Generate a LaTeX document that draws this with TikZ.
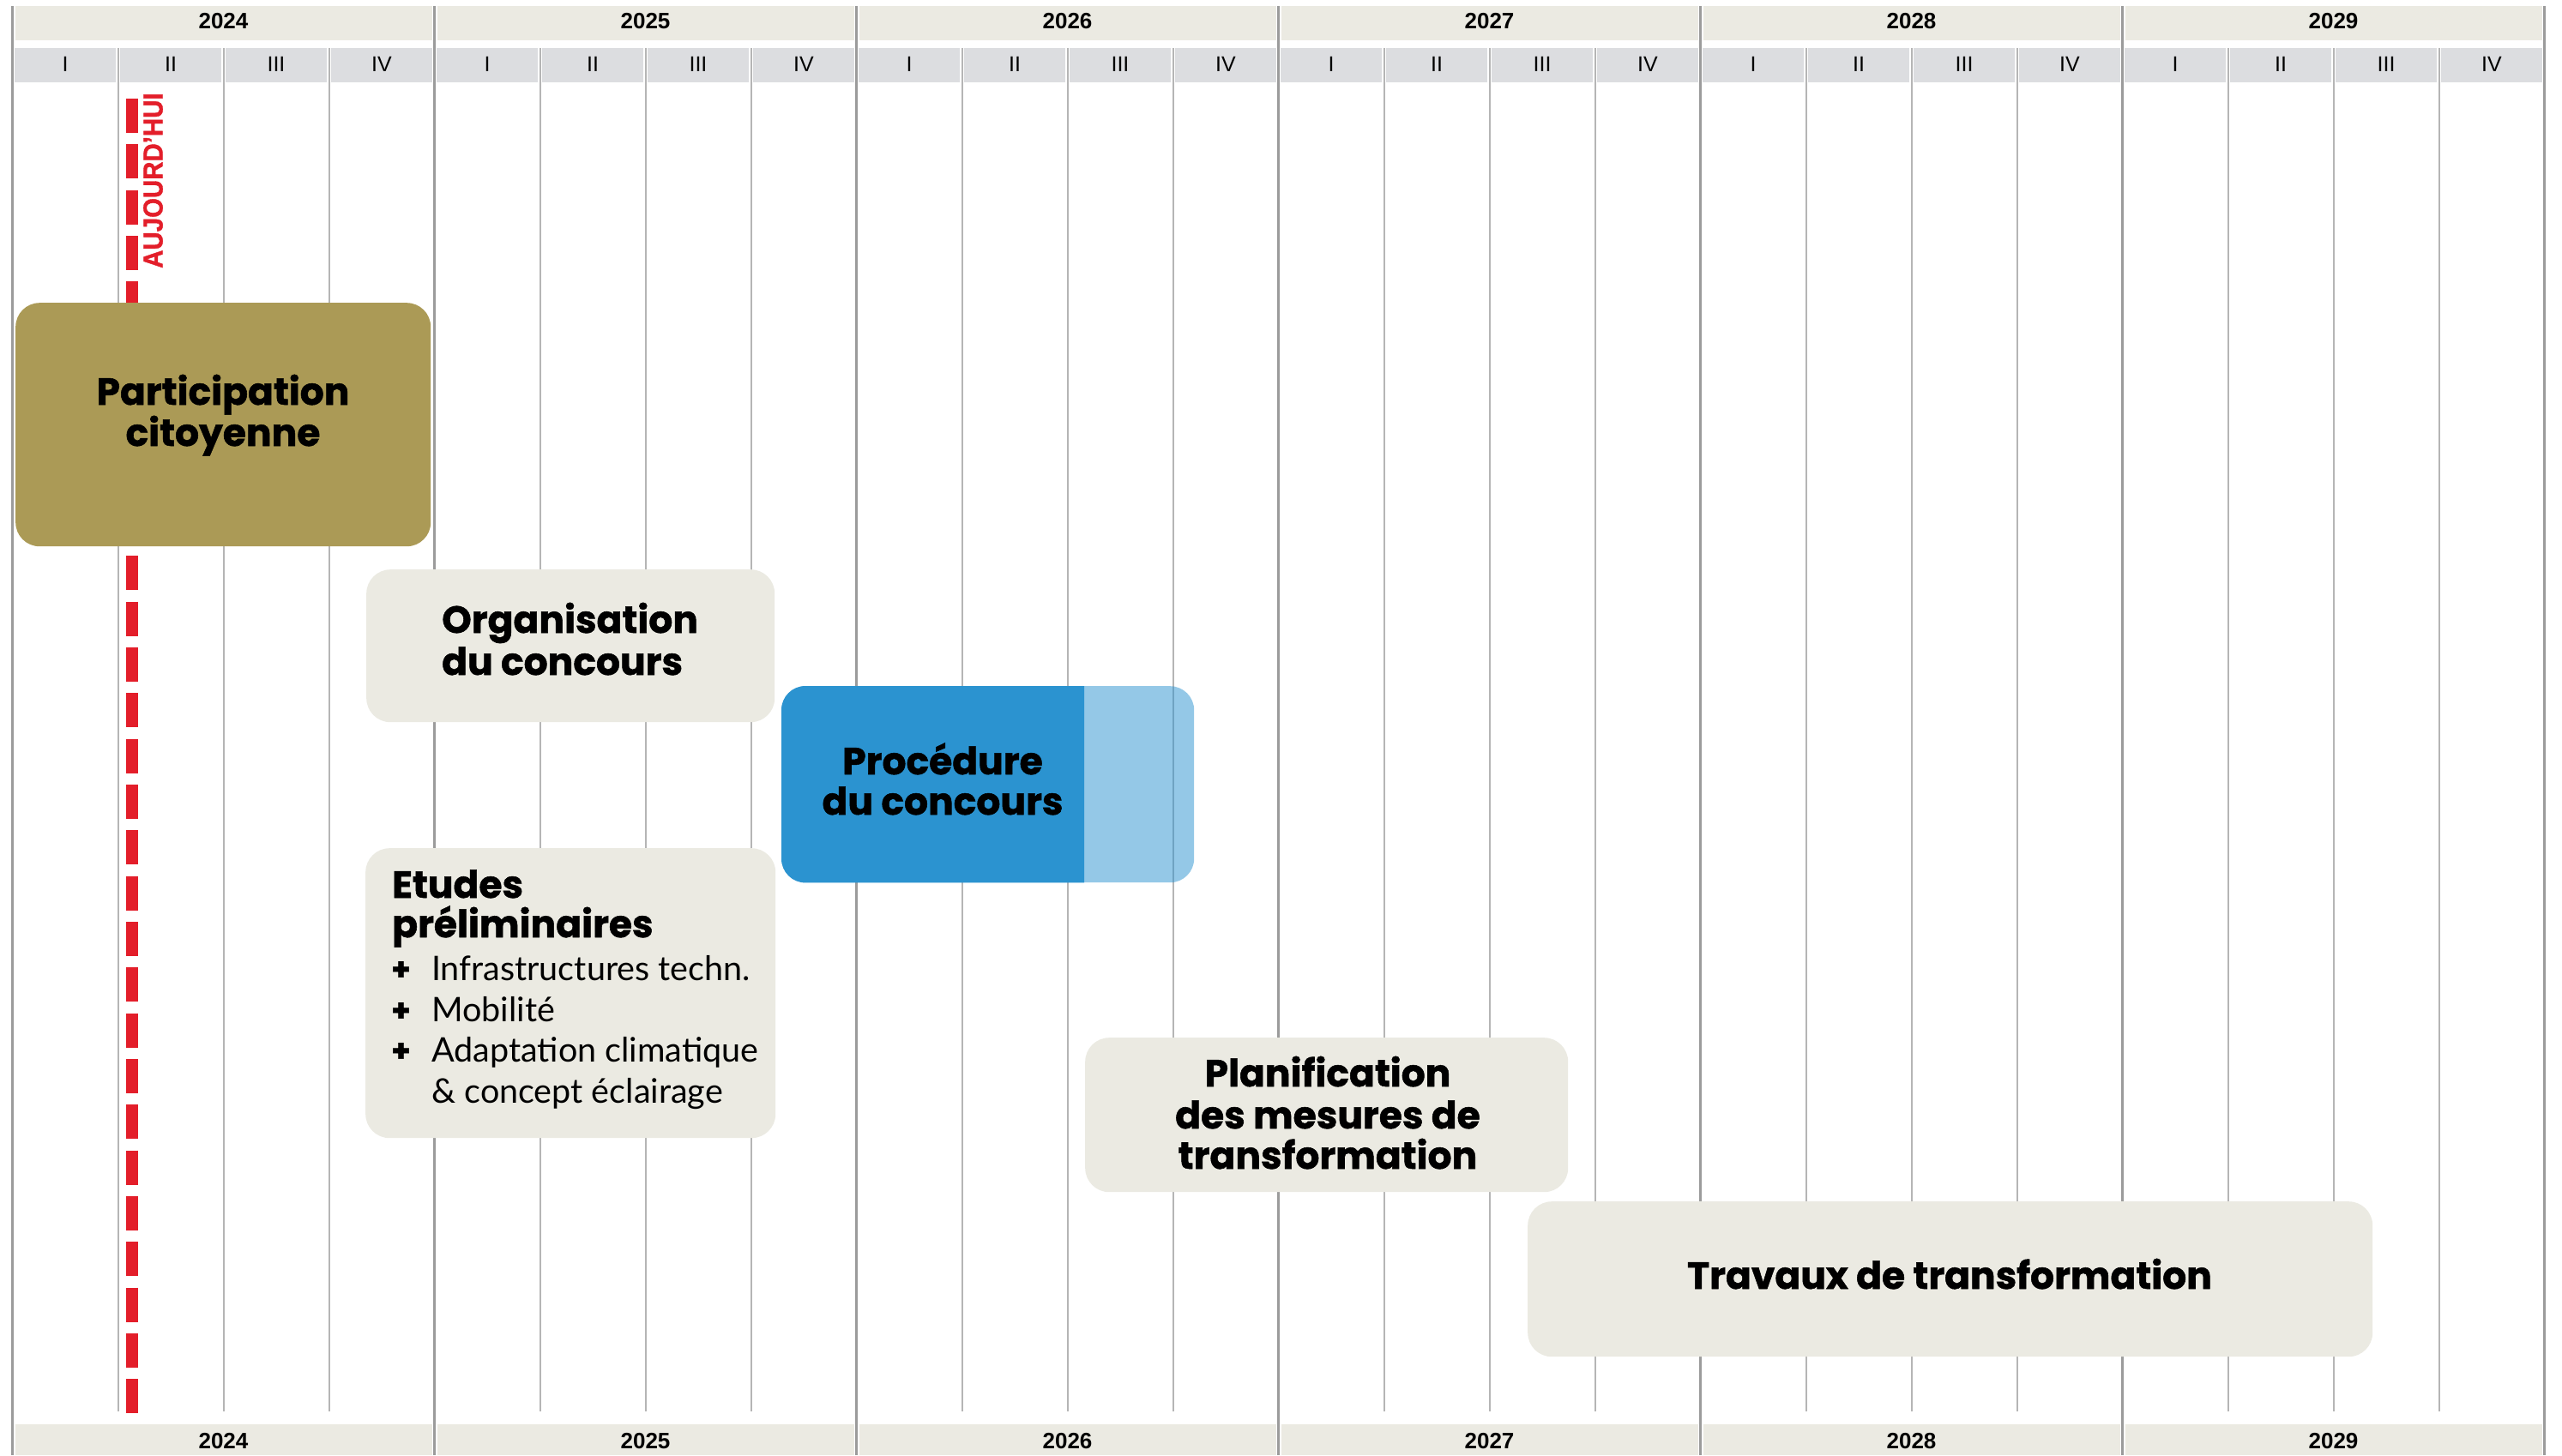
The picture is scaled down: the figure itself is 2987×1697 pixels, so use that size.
\documentclass[tikz,border=0pt]{standalone}
\usepackage{fontspec}
\newfontfamily\titlefont{Poppins}[BoldFeatures={FakeBold=1.2}]
\newfontfamily\bodyfont{Lato}
\newfontfamily\gridfont{Liberation Sans}
\newfontfamily\todayfont{Liberation Sans}[BoldFeatures={FakeBold=1.2, FakeStretch=0.92}]
\definecolor{yearbg}{HTML}{EBEAE2}
\definecolor{qbg}{HTML}{DCDDE0}
\definecolor{divgray}{HTML}{9B9B9B}
\definecolor{qgray}{HTML}{B5B5B5}
\definecolor{todayred}{HTML}{E31E2A}
\definecolor{olivebox}{HTML}{AB9A56}
\definecolor{procblue}{HTML}{2B93D0}
\definecolor{greybox}{HTML}{EBEAE2}
\tikzset{
  yearbox/.style={fill=yearbg},
  qbox/.style={fill=qbg},
  ydiv/.style={draw=divgray, line width=3.5pt},
  qdiv/.style={draw=qgray, line width=2pt},
  yearlbl/.style={font=\gridfont\bfseries\fontsize{26}{26}\selectfont, anchor=base, inner sep=0pt},
  qlbl/.style={font=\gridfont\fontsize{25}{25}\selectfont, anchor=base, inner sep=0pt},
  todayline/.style={draw=todayred, line width=14pt, dash pattern=on 40pt off 13.333pt},
  todaylbl/.style={font=\todayfont\bfseries\fontsize{32}{32}\selectfont, text=todayred, rotate=90, anchor=base west, inner sep=0pt},
  phase/.style={rounded corners=28pt, inner sep=0pt, anchor=north west},
  ttl/.style={font=\titlefont\bfseries\fontsize{44}{48}\selectfont, inner sep=0pt, anchor=base},
  ttlL/.style={ttl, anchor=base west},
  body/.style={font=\bodyfont\fontsize{39.5}{47}\selectfont, inner sep=0pt, anchor=base west},
  plus/.style={font=\titlefont\bfseries\fontsize{36}{36}\selectfont, inner sep=0pt, anchor=base west}
}
\begin{document}
\begin{tikzpicture}[x=1pt,y=-1pt]
\useasboundingbox (0,0) rectangle (2987,1697);
\fill[white] (0,0) rectangle (2987,1697);
% header, quarter row and footer
\foreach \yr [count=\i from 0] in {2024,2025,2026,2027,2028,2029}{
  \pgfmathsetmacro\xa{14.5+492*\i}
  \pgfmathsetmacro\xb{14.5+492*(\i+1)}
  \fill[yearbox] (\xa+3,7) rectangle (\xb-3,47);
  \fill[yearbox] (\xa+3,1661) rectangle (\xb-3,1697);
  \node[yearlbl] (ytop\i) at (\xa+246,33) {\yr};
  \node[yearlbl] (ybot\i) at (\xa+246,1689) {\yr};
  \foreach \q/\ql in {0/I,1/II,2/III,3/IV}{
    \fill[qbox] (\xa+123*\q+2.5,56) rectangle (\xa+123*\q+120.5,96);
    \node[qlbl] (q\i\q) at (\xa+123*\q+61.5,83) {\ql};
  }
  \foreach \q in {1,2,3}{
    \draw[qdiv] (\xa+123*\q,56) -- (\xa+123*\q,1646);
  }
}
\foreach \i in {0,...,6}{
  \draw[ydiv] (14.5+492*\i,7) -- (14.5+492*\i,1697);
}
% today line
\coordinate (todayA) at (154,115);
\coordinate (todayB) at (154,1649);
\draw[todayline] (todayA) -- (todayB);
\node[todaylbl] (todaytxt) at (189.5,313) {AUJOURD’HUI};
% phases
\node[phase, fill=olivebox, minimum width=484pt, minimum height=284pt] (part) at (18,353) {};
\node[ttl] (partA) at (260,472) {Participation};
\node[ttl] (partB) at (260,520) {citoyenne};

\node[phase, fill=greybox, minimum width=476pt, minimum height=178pt] (org) at (427,664) {};
\node[ttlL] (orgA) at (515,738) {Organisation};
\node[ttlL] (orgB) at (515,787) {du concours};

\node[phase, fill=procblue, fill opacity=0.5, minimum width=481pt, minimum height=229pt] (proc) at (911,800) {};
\begin{scope}
  \clip (proc.north west) rectangle (1264,1029);
  \fill[procblue, rounded corners=28pt] (proc.north west) rectangle (proc.south east);
\end{scope}
\node[ttl] (procA) at (1099,903) {Procédure};
\node[ttl] (procB) at (1099,950) {du concours};

\node[phase, fill=greybox, minimum width=478pt, minimum height=338pt] (etu) at (426,989) {};
\node[ttlL] (etuA) at (457,1047) {Etudes};
\node[ttlL] (etuB) at (457,1093) {préliminaires};
\node[plus] (p1) at (456,1143) {+};
\node[body] (etu1) at (503,1143) {Infrastructures techn.};
\node[plus] (p2) at (456,1191) {+};
\node[body] (etu2) at (503,1191) {Mobilité};
\node[plus] (p3) at (456,1238) {+};
\node[body] (etu3) at (503,1238) {Adaptation climatique};
\node[body] (etu4) at (503,1286) {\& concept éclairage};

\node[phase, fill=greybox, minimum width=563pt, minimum height=180pt] (plan) at (1265,1210) {};
\node[ttl] (planA) at (1548,1267) {Planification};
\node[ttl] (planB) at (1548,1316) {des mesures de};
\node[ttl] (planC) at (1548,1363) {transformation};

\node[phase, fill=greybox, minimum width=985pt, minimum height=181pt] (trav) at (1781,1401) {};
\node[ttl] (travA) at (2273,1503) {Travaux de transformation};
\end{tikzpicture}
\end{document}
